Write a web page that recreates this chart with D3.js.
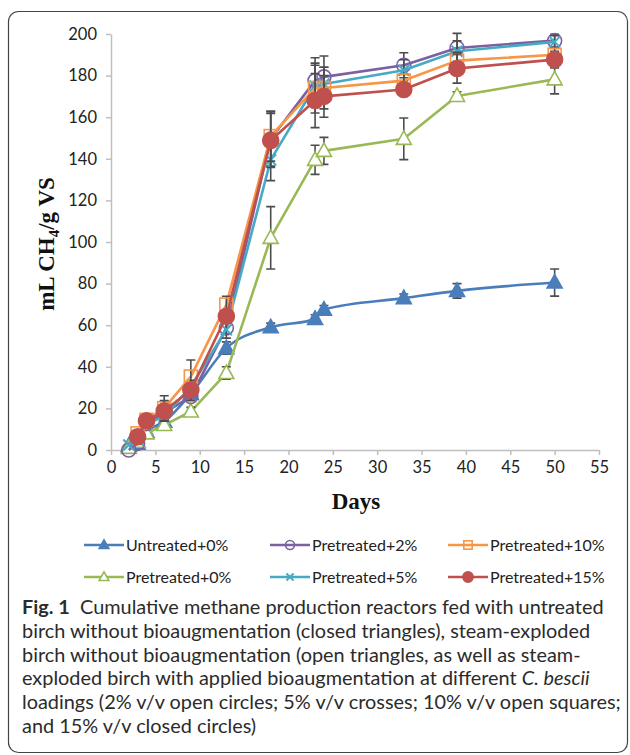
<!DOCTYPE html>
<html>
<head>
<meta charset="utf-8">
<title>Cumulative methane production</title>
<script src="https://cdnjs.cloudflare.com/ajax/libs/d3/7.8.5/d3.min.js"></script>
<style>
    body { margin: 0; background: white; }
    .tick text { font-family: Lato, "Liberation Sans", sans-serif; font-size: 16.5px; fill: #222; }
    .axis-title { font-family: "Liberation Serif", "DejaVu Serif", serif; font-weight: bold; font-size: 23px; fill: #111; }
    .legend-text { font-family: Lato, "Liberation Sans", sans-serif; font-size: 16px; fill: #222; }
    .caption { font-family: Lato, "Open Sans", sans-serif; fill: #2b2b2b; }
</style>
</head>
<body>
<div id="chart"></div>
<script>
// sampling days
const days = [2, 3, 4, 6, 9, 13, 18, 23, 24, 33, 39, 50];

const untreated0 = [2, 3, 8.8, 13.6, 27, 49, 59, 63, 67.5, 73, 76.5, 80.5];
const untreated0Err = [0, 0, 0, 1, 2, 3, 2, 2, 2, 2, 3.5, 6.5];
const pretreated0 = [1, 4, 8, 12, 18.5, 37, 102, 139.5, 143.8, 149.6, 170.2, 178.2];
const pretreated0Err = [0, 0, 0, 2.5, 2, 3, 15, 7, 6.5, 10, 2, 7];
const pretreated2 = [0, 3.2, 12.7, 17.8, 25.7, 58.7, 149.5, 177.6, 179.4, 185, 193.3, 196.8];
const pretreated2Err = [0, 0, 0, 2, 2, 3, 13, 11, 10, 6, 7, 3];
const pretreated5 = [2.4, 4.8, 12.9, 16, 30.5, 57.8, 139.5, 175, 176, 182.6, 191.7, 196.2];
const pretreated5Err = [0, 0, 0, 2, 3, 4, 10, 10, 8, 5, 5, 3];
const pretreated10 = [null, 8, 14.5, 20.1, 35.3, 69.9, 150.9, 174, 174, 177.6, 187.2, 190];
const pretreated10Err = [0, 1, 1, 6, 8, 4, 12, 12, 10, 3, 4, 3];
const pretreated15 = [null, 6.4, 14, 18.8, 28.9, 64.3, 148.8, 168, 170, 173.3, 183.4, 187.7];
const pretreated15Err = [0, 1, 1, 5, 3, 3, 13, 13, 10, 3, 7, 4];

const xTicks = [0, 5, 10, 15, 20, 25, 30, 35, 40, 45, 50, 55];
const yTicks = [0, 20, 40, 60, 80, 100, 120, 140, 160, 180, 200];

// drawing order = Excel series order
const series = [
    { name: "Untreated+0%", values: untreated0, err: untreated0Err, color: "#4a7ebb", marker: "triFilled", smooth: true },
    { name: "Pretreated+0%", values: pretreated0, err: pretreated0Err, color: "#98b954", marker: "triOpen" },
    { name: "Pretreated+2%", values: pretreated2, err: pretreated2Err, color: "#7d60a0", marker: "circleOpen" },
    { name: "Pretreated+5%", values: pretreated5, err: pretreated5Err, color: "#46aac5", marker: "cross" },
    { name: "Pretreated+10%", values: pretreated10, err: pretreated10Err, color: "#f79646", marker: "squareOpen" },
    { name: "Pretreated+15%", values: pretreated15, err: pretreated15Err, color: "#c0504d", marker: "circleFilled" }
];

// legend is laid out column by column, as in the original
const legendOrder = ["Untreated+0%", "Pretreated+2%", "Pretreated+10%",
                     "Pretreated+0%", "Pretreated+5%", "Pretreated+15%"];

const W = 630, H = 755;
const svg = d3.select("#chart").append("svg")
    .attr("width", W)
    .attr("height", H);

// frame of the figure panel
svg.append("rect")
    .attr("x", 8.5).attr("y", 11.5)
    .attr("width", 619).attr("height", 741)
    .attr("rx", 10).attr("ry", 10)
    .attr("fill", "white")
    .attr("stroke", "#444")
    .attr("stroke-width", 1.2);

const x = d3.scaleLinear().domain([0, 55]).range([111, 599]);
const y = d3.scaleLinear().domain([0, 200]).range([450, 34]);

svg.append("g")
    .attr("transform", "translate(0,450)")
    .call(d3.axisBottom(x).tickValues(xTicks).tickSize(5).tickPadding(6).tickSizeOuter(0))
    .call(g => g.selectAll("line, path").attr("stroke", "#bfbfbf").attr("stroke-width", 1.5));

svg.append("g")
    .attr("transform", "translate(111,0)")
    .call(d3.axisLeft(y).tickValues(yTicks).tickSize(5).tickPadding(9).tickSizeOuter(0))
    .call(g => g.selectAll("line, path").attr("stroke", "#bfbfbf").attr("stroke-width", 1.5));

svg.append("text")
    .attr("class", "axis-title")
    .attr("x", 356).attr("y", 509)
    .attr("text-anchor", "middle")
    .text("Days");

const yTitle = svg.append("text")
    .attr("class", "axis-title")
    .attr("transform", "translate(54,244) rotate(-90)")
    .attr("text-anchor", "middle");
yTitle.append("tspan").text("mL CH");
yTitle.append("tspan").attr("dy", 5).style("font-size", "15px").text("4");
yTitle.append("tspan").attr("dy", -5).text("/g VS");

function drawMarker(g, type, color, s) {
    const k = s / 14;
    if (type === "triFilled" || type === "triOpen") {
        g.append("path")
            .attr("d", `M0,${-8 * k}L${7.5 * k},${5.5 * k}L${-7.5 * k},${5.5 * k}Z`)
            .attr("fill", type === "triFilled" ? color : "white")
            .attr("stroke", color).attr("stroke-width", 1.6);
    } else if (type === "circleOpen" || type === "circleFilled") {
        g.append("circle")
            .attr("r", (type === "circleFilled" ? 8 : 7) * k)
            .attr("fill", type === "circleFilled" ? color : "white")
            .attr("fill-opacity", type === "circleFilled" ? 1 : 0)
            .attr("stroke", color).attr("stroke-width", 1.6);
    } else if (type === "squareOpen") {
        g.append("rect")
            .attr("x", -6.5 * k).attr("y", -6.5 * k)
            .attr("width", 13 * k).attr("height", 13 * k)
            .attr("fill", "none")
            .attr("stroke", color).attr("stroke-width", 1.6);
    } else if (type === "cross") {
        g.append("path")
            .attr("d", `M${-5.5 * k},${-5.5 * k}L${5.5 * k},${5.5 * k}M${-5.5 * k},${5.5 * k}L${5.5 * k},${-5.5 * k}`)
            .attr("stroke", color).attr("stroke-width", 2);
    }
}

const plot = svg.append("g");

series.forEach(s => {
    const pts = days.map((d, i) => ({ day: d, v: s.values[i], e: s.err[i] }))
        .filter(p => p.v !== null);
    const g = plot.append("g");

    g.append("path")
        .datum(pts)
        .attr("fill", "none")
        .attr("stroke", s.color)
        .attr("stroke-width", 2.6)
        .attr("stroke-linejoin", "round")
        .attr("d", d3.line()
            .x(p => x(p.day)).y(p => y(p.v))
            .curve(s.smooth ? d3.curveMonotoneX : d3.curveLinear));

    // error bars
    pts.filter(p => p.e > 0).forEach(p => {
        const cx = x(p.day), y0 = y(p.v - p.e), y1 = y(p.v + p.e);
        g.append("path")
            .attr("d", `M${cx},${y0}V${y1}M${cx - 4.5},${y0}H${cx + 4.5}M${cx - 4.5},${y1}H${cx + 4.5}`)
            .attr("stroke", "#4d4d4d")
            .attr("stroke-width", 1.6)
            .attr("fill", "none");
    });

    pts.forEach(p => {
        const m = g.append("g").attr("transform", `translate(${x(p.day)},${y(p.v)})`);
        drawMarker(m, s.marker, s.color, 14);
    });
});

// legend
const legendCols = [84, 270, 448];
const legendRows = [545, 577];
legendOrder.forEach((name, i) => {
    const s = series.find(d => d.name === name);
    const lx = legendCols[i % 3], ly = legendRows[Math.floor(i / 3)];
    const g = svg.append("g").attr("transform", `translate(${lx},${ly})`);
    g.append("line")
        .attr("x1", 0).attr("x2", 40)
        .attr("stroke", s.color).attr("stroke-width", 2.6);
    const m = g.append("g").attr("transform", "translate(20,0)");
    drawMarker(m, s.marker, s.color, 9);
    g.append("text")
        .attr("class", "legend-text")
        .attr("x", 42).attr("y", 5.5)
        .text(s.name);
});

// figure caption
const captionLines = [
    [{ t: "Fig. 1", b: true }, { t: "  Cumulative methane production reactors fed with untreated" }],
    [{ t: "birch without bioaugmentation (closed triangles), steam-exploded" }],
    [{ t: "birch without bioaugmentation (open triangles, as well as steam-" }],
    [{ t: "exploded birch with applied bioaugmentation at different " }, { t: "C. bescii", i: true }],
    [{ t: "loadings (2% v/v open circles; 5% v/v crosses; 10% v/v open squares;" }],
    [{ t: "and 15% v/v closed circles)" }]
];

const cap = svg.append("g").attr("class", "caption");
const capLines = captionLines.map((parts, li) => {
    const t = cap.append("text")
        .attr("x", 22)
        .attr("y", 614 + li * 23.8)
        .attr("xml:space", "preserve")
        .style("white-space", "pre")
        .style("font-size", "17px");
    parts.forEach(p => {
        t.append("tspan")
            .style("font-weight", p.b ? "bold" : null)
            .style("font-style", p.i ? "italic" : null)
            .text(p.t);
    });
    return t;
});
// fit the font size so the first line spans the same width as in the figure
const natural = capLines[0].node().getComputedTextLength();
const fs = 17 * 582 / natural;
capLines.forEach(t => t.style("font-size", fs + "px"));
</script>
</body>
</html>
